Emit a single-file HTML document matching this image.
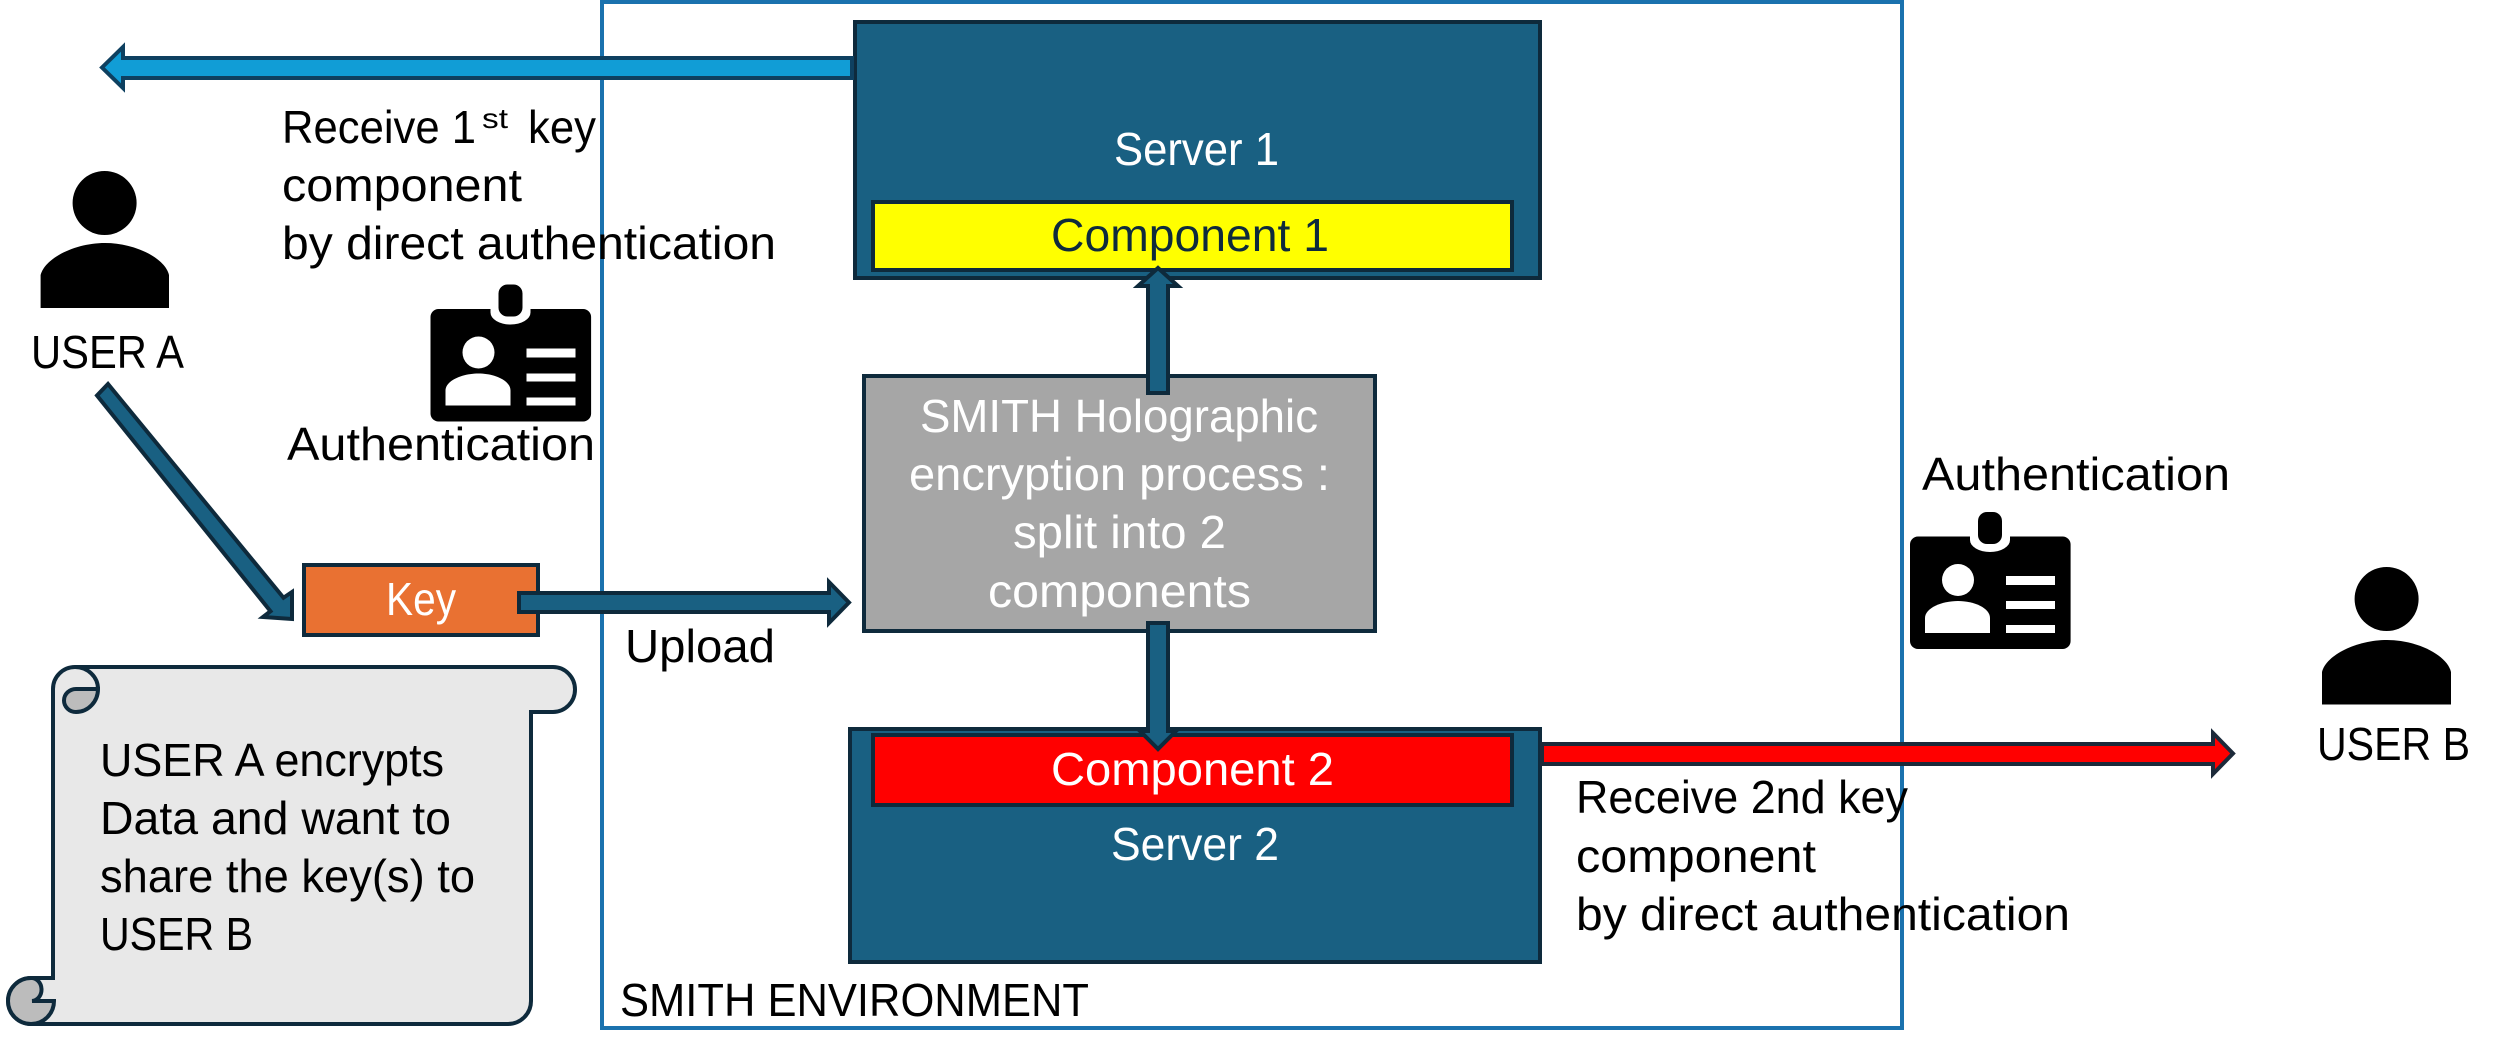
<!DOCTYPE html>
<html lang="en">
<head>
<meta charset="utf-8">
<title>SMITH key sharing diagram</title>
<style>
html,body{margin:0;padding:0;background:#fff;width:2500px;height:1058px;overflow:hidden}
svg{display:block}
text{font-family:"Liberation Sans",sans-serif;font-size:46px;fill:#000}
.w{fill:#fff}
</style>
</head>
<body>
<svg width="2500" height="1058" viewBox="0 0 2500 1058" xmlns="http://www.w3.org/2000/svg">
<rect width="2500" height="1058" fill="#fff"/>
<!-- environment -->
<rect x="602" y="2" width="1300" height="1026" fill="none" stroke="#1a72ae" stroke-width="4"/>

<!-- server 1 -->
<rect x="855" y="22" width="685" height="256" fill="#196082" stroke="#0e2a3c" stroke-width="4"/>
<text x="1114" y="165" class="w" textLength="165" lengthAdjust="spacingAndGlyphs">Server 1</text>
<rect x="873" y="202" width="639" height="68" fill="#ffff00" stroke="#0e2a3c" stroke-width="4"/>
<text x="1051" y="251" style="fill:#0e2a3c" textLength="278" lengthAdjust="spacingAndGlyphs">Component 1</text>

<!-- server 2 -->
<rect x="850" y="729" width="690" height="233" fill="#196082" stroke="#0e2a3c" stroke-width="4"/>
<rect x="873" y="735" width="639" height="70" fill="#ff0000" stroke="#0e2a3c" stroke-width="4"/>
<text x="1051" y="785" class="w" textLength="283" lengthAdjust="spacingAndGlyphs">Component 2</text>
<text x="1111" y="860" class="w" textLength="168" lengthAdjust="spacingAndGlyphs">Server 2</text>

<!-- gray process -->
<rect x="864" y="376" width="511" height="255" fill="#a6a6a6" stroke="#0e2a3c" stroke-width="4"/>
<text x="920" y="432" class="w" textLength="398" lengthAdjust="spacingAndGlyphs">SMITH Holographic</text>
<text x="909" y="490" class="w" textLength="421" lengthAdjust="spacingAndGlyphs">encryption process :</text>
<text x="1013" y="548" class="w" textLength="213" lengthAdjust="spacingAndGlyphs">split into 2</text>
<text x="988" y="607" class="w" textLength="263" lengthAdjust="spacingAndGlyphs">components</text>

<!-- arrows between -->
<polygon points="1158,268 1178,286 1168,286 1168,393 1148,393 1148,286 1138,286" fill="#196082" stroke="#0e2a3c" stroke-width="4"/>
<polygon points="1148,623 1168,623 1168,731 1176,731 1158,749 1140,731 1148,731" fill="#196082" stroke="#0e2a3c" stroke-width="4"/>

<!-- top blue arrow -->
<polygon points="102,67.5 123,47 123,58 852,58 852,78 123,78 123,88" fill="#119dd6" stroke="#0e4060" stroke-width="4"/>
<!-- red arrow -->
<polygon points="1542,744 2213,744 2213,733 2233,753.5 2213,774 2213,764 1542,764" fill="#ff0000" stroke="#1c2a3a" stroke-width="4"/>

<!-- key -->
<rect x="304" y="565" width="234" height="70" fill="#e97132" stroke="#0e2a3c" stroke-width="4"/>
<text x="386" y="615" class="w" textLength="70" lengthAdjust="spacingAndGlyphs">Key</text>
<polygon points="519,593 829,593 829,582 849,602.5 829,623 829,612 519,612" fill="#196082" stroke="#0e2a3c" stroke-width="4"/>
<polygon points="108,384 283.5,597.75 292,592 292,619 263,617 270.5,611.25 97,395.5" fill="#196082" stroke="#0e2a3c" stroke-width="4"/>

<!-- scroll -->
<path d="M75,667 L553,667 A22,22.5 0 0 1 553,712 L531,712 L531,1001 A23,23 0 0 1 508,1024 L31,1024 A23,23 0 0 1 31,978 L53,978 L53,689 A22,22 0 0 1 75,667 Z" fill="#e8e8e8" stroke="#0e2a3c" stroke-width="4"/>
<path d="M98,689 L76,689 A12,11.5 0 0 0 76,712 A22,23 0 0 0 98,689 Z" fill="#bcbcbc" stroke="#0e2a3c" stroke-width="4"/>
<path d="M75,667 A23,22 0 0 1 98,689" fill="none" stroke="#0e2a3c" stroke-width="4"/>
<path d="M31,978 A23,23 0 0 0 31,1024 A23,23 0 0 0 54,1001 L32,1001 A10,11.5 0 0 0 31,978 Z" fill="#bcbcbc" stroke="#0e2a3c" stroke-width="4"/>
<text x="100" y="776" textLength="344" lengthAdjust="spacingAndGlyphs">USER A encrypts</text>
<text x="100" y="834" textLength="351" lengthAdjust="spacingAndGlyphs">Data and want to</text>
<text x="100" y="892" textLength="375" lengthAdjust="spacingAndGlyphs">share the key(s) to</text>
<text x="100" y="950" textLength="153" lengthAdjust="spacingAndGlyphs">USER B</text>

<!-- user A -->
<ellipse cx="104.6" cy="203" rx="32" ry="32"/>
<path d="M40.6,308 L40.6,275 C45,258 75,243 105,243 C135,243 165,258 169,275 L169,308 Z"/>
<text x="31" y="368" textLength="153" lengthAdjust="spacingAndGlyphs">USER A</text>
<!-- user B -->
<ellipse cx="2386.6" cy="599" rx="32" ry="32"/>
<path d="M2322,704.5 L2322,672 C2326,655 2357,640 2387,640 C2417,640 2447,655 2451,672 L2451,704.5 Z"/>
<text x="2317" y="760" textLength="153" lengthAdjust="spacingAndGlyphs">USER B</text>

<!-- badges -->
<g>
<rect x="1910" y="536.5" width="160.6" height="112.5" rx="8" fill="#000"/>
<path d="M1970,530 L1970,540 A20,12 0 0 0 2010,540 L2010,530 Z" fill="#fff"/>
<rect x="1978" y="512" width="24" height="32" rx="9" fill="#000"/>
<ellipse cx="1958" cy="580" rx="16" ry="16" fill="#fff"/>
<path d="M1925,633 L1925,618 C1925,608 1942,601 1958,601 C1974,601 1990,608 1990,618 L1990,633 Z" fill="#fff"/>
<rect x="2006" y="576" width="49" height="9" fill="#fff"/>
<rect x="2006" y="601" width="49" height="8" fill="#fff"/>
<rect x="2006" y="625" width="49" height="8" fill="#fff"/>
</g>
<g transform="translate(-1479.5,-227.5)">
<rect x="1910" y="536.5" width="160.6" height="112.5" rx="8" fill="#000"/>
<path d="M1970,530 L1970,540 A20,12 0 0 0 2010,540 L2010,530 Z" fill="#fff"/>
<rect x="1978" y="512" width="24" height="32" rx="9" fill="#000"/>
<ellipse cx="1958" cy="580" rx="16" ry="16" fill="#fff"/>
<path d="M1925,633 L1925,618 C1925,608 1942,601 1958,601 C1974,601 1990,608 1990,618 L1990,633 Z" fill="#fff"/>
<rect x="2006" y="576" width="49" height="9" fill="#fff"/>
<rect x="2006" y="601" width="49" height="8" fill="#fff"/>
<rect x="2006" y="625" width="49" height="8" fill="#fff"/>
</g>

<!-- labels -->
<text x="282" y="143" textLength="194" lengthAdjust="spacingAndGlyphs">Receive 1</text>
<text x="482" y="128" style="font-size:28px" textLength="26" lengthAdjust="spacingAndGlyphs">st</text>
<text x="528" y="143" textLength="68" lengthAdjust="spacingAndGlyphs">key</text>
<text x="282" y="201" textLength="240" lengthAdjust="spacingAndGlyphs">component</text>
<text x="282" y="259" textLength="494" lengthAdjust="spacingAndGlyphs">by direct authentication</text>
<text x="287" y="460" textLength="308" lengthAdjust="spacingAndGlyphs">Authentication</text>
<text x="1922" y="490" textLength="308" lengthAdjust="spacingAndGlyphs">Authentication</text>
<text x="625" y="662" textLength="150" lengthAdjust="spacingAndGlyphs">Upload</text>
<text x="620" y="1016" textLength="469" lengthAdjust="spacingAndGlyphs">SMITH ENVIRONMENT</text>
<text x="1576" y="813" textLength="332" lengthAdjust="spacingAndGlyphs">Receive 2nd key</text>
<text x="1576" y="872" textLength="240" lengthAdjust="spacingAndGlyphs">component</text>
<text x="1576" y="930" textLength="494" lengthAdjust="spacingAndGlyphs">by direct authentication</text>
</svg>
</body>
</html>
